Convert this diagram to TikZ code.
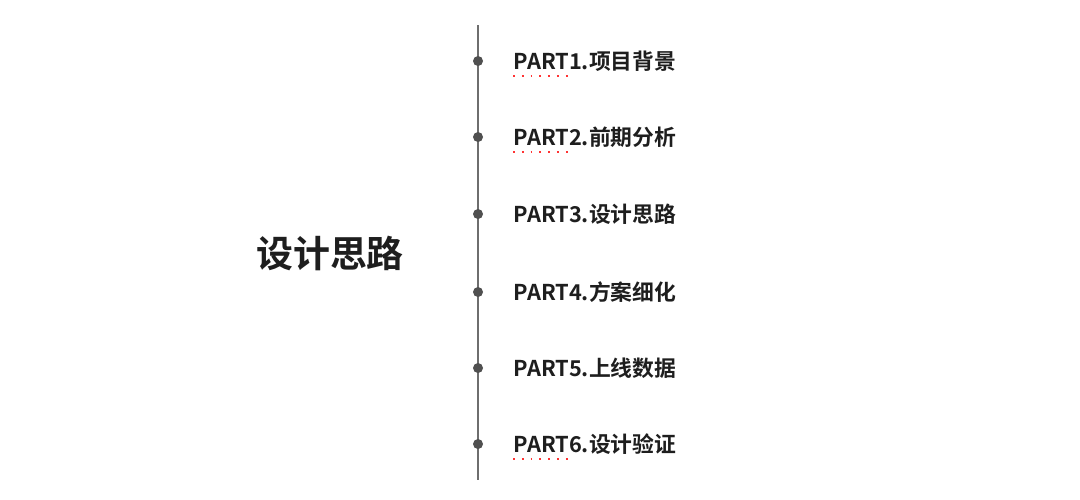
\documentclass[tikz,border=0pt]{standalone}
\usepackage{fontspec}
\setmainfont{Noto Sans CJK SC}[BoldFont={* Bold}]
\usetikzlibrary{positioning}
\definecolor{textgray}{RGB}{30,30,30}
\definecolor{dotgray}{RGB}{80,80,80}
\definecolor{linegray}{RGB}{110,110,110}
\tikzset{item/.style={anchor=west, text=textgray, font=\fontsize{6.2}{7}\selectfont\bfseries, inner sep=0pt}}
\tikzset{dot/.style={circle, fill=dotgray, minimum size=0.1cm, inner sep=0pt}}
\tikzset{spell/.style={draw=red!80, dotted, line width=0.5pt}}
\begin{document}
\begin{tikzpicture}[x=0.01cm, y=-0.01cm]
		\useasboundingbox (0,0) rectangle (1080,499);
		
		% Axis
		\draw[linegray, line width=0.4pt] (478,25) coordinate(top) -- (478,480) coordinate(bot);
		
		% Title
		\node[text=textgray, font=\fontsize{10.5}{12}\selectfont\bfseries, inner sep=0pt] (title) at (330,253) {设计思路};
		
		% Items
		\foreach \i/\y/\t in {1/61/项目背景, 2/137/前期分析, 3/214/设计思路, 4/292/方案细化, 5/368/上线数据, 6/444/设计验证}
		{
			\node[dot] (d\i) at (478,\y) {};
			\node[item] (p\i) at (513,\y) {PART\i.\t};
		}
		
		%% Spell marks
		\foreach \i in {1,2,6}
			\draw[spell] ([yshift=-1.2pt]p\i.south west) -- ++(60,0);
	\end{tikzpicture}
\end{document}
